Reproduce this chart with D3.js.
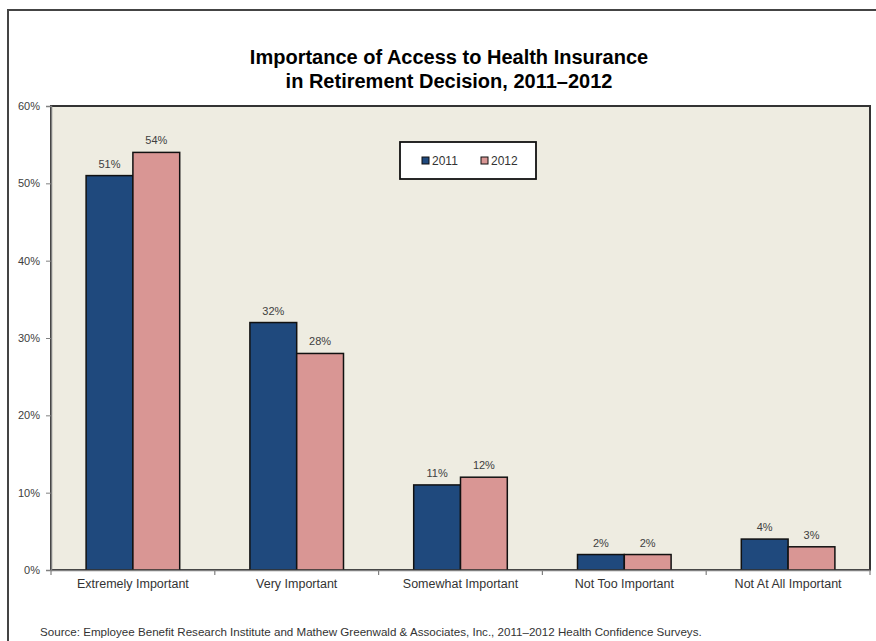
<!DOCTYPE html>
<html><head><meta charset="utf-8">
<script src="https://cdn.jsdelivr.net/npm/d3@7"></script>
<style>
body{margin:0;background:#fff;}
svg{display:block;font-family:"Liberation Sans",Arial,sans-serif;}
</style></head>
<body><svg id="c" width="876" height="641"></svg>
<script>
const categories = ["Extremely Important","Very Important","Somewhat Important","Not Too Important","Not At All Important"];
const seriesNames = ["2011","2012"];
const values2011 = [51,32,11,2,4];
const values2012 = [54,28,12,2,3];
const yTicks = [0,10,20,30,40,50,60];
const colors = ["#1F497D","#D99694"];
const titleLines = ["Importance of Access to Health Insurance","in Retirement Decision, 2011\u20132012"];
const sourceText = "Source: Employee Benefit Research Institute and Mathew Greenwald & Associates, Inc., 2011\u20132012 Health Confidence Surveys.";

const svg = d3.select("#c");
// outer frame
svg.append("path").attr("d","M8,641 L8,10 L876,10").attr("fill","none").attr("stroke","#444").attr("stroke-width",2);

const L=51,R=870,T=106,B=570;
const x0 = d3.scaleBand().domain(categories).range([L,R]).paddingInner(0).paddingOuter(0);
const x1 = d3.scaleBand().domain(seriesNames).range([0,x0.bandwidth()]).paddingInner(0).paddingOuter(0.75);
const y = d3.scaleLinear().domain([0,60]).range([B,T]);

svg.append("rect").attr("x",L).attr("y",T).attr("width",R-L).attr("height",B-T)
  .attr("fill","#EEECE1").attr("stroke","#333").attr("stroke-width",2);

// title
svg.append("g").selectAll("text").data(titleLines).join("text")
  .attr("x",449).attr("y",(d,i)=>64+i*24).attr("text-anchor","middle")
  .attr("font-size",20).attr("font-weight","bold").attr("fill","#000").text(d=>d);

// bars
const data = categories.map((c,i)=>({c, vals:[values2011[i],values2012[i]]}));
const g = svg.append("g");
data.forEach(d=>{
  d.vals.forEach((v,j)=>{
    const xx = x0(d.c)+x1(seriesNames[j]);
    g.append("rect").attr("x",xx).attr("y",y(v)).attr("width",x1.bandwidth()).attr("height",y(0)-y(v))
      .attr("fill",colors[j]).attr("stroke","#111").attr("stroke-width",1.5);
    g.append("text").attr("x",xx+x1.bandwidth()/2).attr("y",y(v)-8).attr("text-anchor","middle")
      .attr("font-size",11).attr("fill","#404040").text(v+"%");
  });
});

// y axis
const yAxis = d3.axisLeft(y).tickValues(yTicks).tickFormat(d=>d+"%").tickSize(5).tickPadding(6);
const ya = svg.append("g").attr("transform",`translate(${L},0)`).call(yAxis);
ya.select(".domain").attr("stroke","#808080").attr("stroke-width",1.5);
ya.selectAll(".tick line").attr("stroke","#808080");
ya.selectAll("text").attr("font-size",11).attr("fill","#404040").attr("font-family","Liberation Sans, Arial, sans-serif");

// x axis
const xAxis = d3.axisBottom(x0).tickSize(0).tickPadding(9);
const xa = svg.append("g").attr("transform",`translate(0,${B})`).call(xAxis);
xa.select(".domain").attr("stroke","#808080").attr("stroke-width",1.5);
xa.selectAll("text").attr("font-size",12.5).attr("fill","#333").attr("font-family","Liberation Sans, Arial, sans-serif");
// boundary ticks
const bounds = categories.map(c=>x0(c)).concat([R]);
svg.append("g").selectAll("line").data(bounds).join("line")
  .attr("x1",d=>d).attr("x2",d=>d).attr("y1",B).attr("y2",B+5).attr("stroke","#808080").attr("stroke-width",1.2);

// legend
const lg = svg.append("g");
lg.append("rect").attr("x",400).attr("y",142).attr("width",136).attr("height",37)
  .attr("fill","#fff").attr("stroke","#111").attr("stroke-width",1.8);
seriesNames.forEach((s,i)=>{
  const lx = 422 + i*59;
  lg.append("rect").attr("x",lx).attr("y",157).attr("width",7).attr("height",7)
    .attr("fill",colors[i]).attr("stroke","#111").attr("stroke-width",1);
  lg.append("text").attr("x",lx+10).attr("y",165).attr("font-size",12).attr("fill","#333").text(s);
});

// source
svg.append("text").attr("x",40).attr("y",636).attr("font-size",11.6).attr("fill","#333").text(sourceText);
</script></body></html>
